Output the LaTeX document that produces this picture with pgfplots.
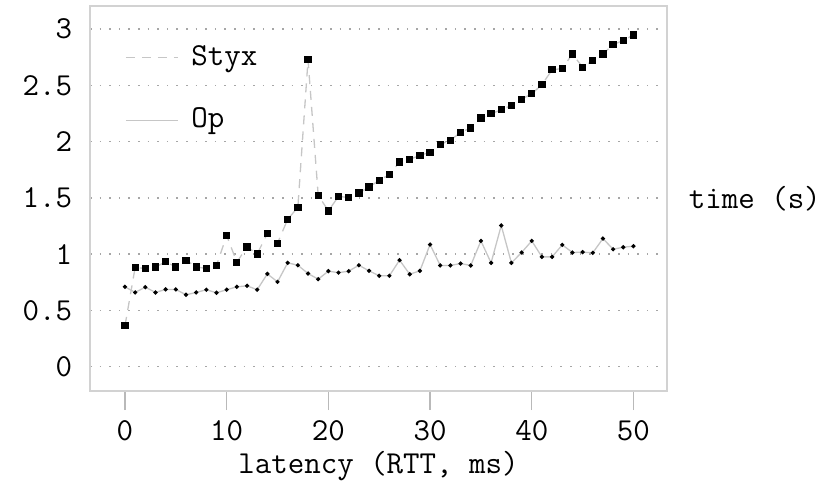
\documentclass[border=0pt]{standalone}
\usepackage{fontspec}
\usepackage{pgfplots}
\pgfplotsset{compat=1.18}
\pgfplotstableread{
x y
0 0.364
1 0.882
2 0.873
3 0.887
4 0.932
5 0.887
6 0.947
7 0.887
8 0.873
9 0.900
10 1.166
11 0.929
12 1.065
13 1.003
14 1.183
15 1.098
16 1.310
17 1.417
18 2.728
19 1.524
20 1.385
21 1.514
22 1.503
23 1.544
24 1.597
25 1.657
26 1.707
27 1.819
28 1.843
29 1.878
30 1.905
31 1.976
32 2.012
33 2.083
34 2.121
35 2.210
36 2.248
37 2.284
38 2.322
39 2.378
40 2.426
41 2.506
42 2.639
43 2.650
44 2.780
45 2.662
46 2.720
47 2.780
48 2.863
49 2.899
50 2.949
}\styx
\pgfplotstableread{
x y
0 0.710
1 0.660
2 0.707
3 0.660
4 0.687
5 0.687
6 0.639
7 0.660
8 0.684
9 0.657
10 0.684
11 0.710
12 0.719
13 0.684
14 0.825
15 0.754
16 0.923
17 0.902
18 0.828
19 0.778
20 0.849
21 0.836
22 0.849
23 0.902
24 0.852
25 0.808
26 0.808
27 0.947
28 0.822
29 0.852
30 1.086
31 0.900
32 0.900
33 0.917
34 0.900
35 1.118
36 0.923
37 1.255
38 0.923
39 1.015
40 1.118
41 0.976
42 0.976
43 1.083
44 1.015
45 1.018
46 1.012
47 1.139
48 1.044
49 1.062
50 1.071
}\op
\begin{document}
\ttfamily\fontsize{32bp}{37bp}\selectfont
\begin{tikzpicture}
\useasboundingbox (-90bp,-93bp) rectangle (744bp,391bp);
\begin{axis}[
  at={(0,0)}, anchor=south west,
  scale only axis, width=577bp, height=385bp,
  xmin=-3.44, xmax=53.3, ymin=-0.216, ymax=3.206,
  xtick={0,10,...,50}, ytick={0,0.5,1,1.5,2,2.5,3},
  axis line style={gray!35, line width=1.2bp},
  tick align=outside,
  xtick pos=bottom,
  major tick length=19bp,
  xtick style={gray!55, line width=1.2bp},
  ytick style={draw=none},
  ymajorgrids,
  grid style={gray!70, line width=1.6bp, dash pattern=on 1.6bp off 8bp},
  /pgf/number format/assume math mode=true,
  yticklabel style={/pgf/number format/fixed, xshift=12bp},
  xlabel={latency (RTT, ms)},
  ylabel={time (s)},
  every axis y label/.style={at={(rel axis cs:1,0.5)}, anchor=west, xshift=11bp},
  every axis x label/.style={at={(rel axis cs:0.5,0)}, anchor=center, yshift=-75bp},
  legend style={draw=none, fill=none, at={(rel axis cs:0,1)}, anchor=north west,
    xshift=35bp, yshift=-39bp, inner sep=0pt, nodes={inner sep=0pt},
    column sep=13bp, row sep=38bp},
  legend image code/.code={\draw[#1,mark=none] (0bp,0bp) -- (52bp,0bp);},
  legend cell align=left,
]
\addplot[gray!45, line width=1.3bp, dash pattern=on 9bp off 7bp,
  mark=square*, mark size=3bp, mark options={solid, black, fill=black}]
  table[x=x,y=y]{\styx};
\addlegendentry{Styx}
\addplot[gray!45, line width=1.3bp,
  mark=*, mark size=1.4bp, mark options={black, fill=black}]
  table[x=x,y=y]{\op};
\addlegendentry{Op}
\end{axis}
\end{tikzpicture}
\end{document}
